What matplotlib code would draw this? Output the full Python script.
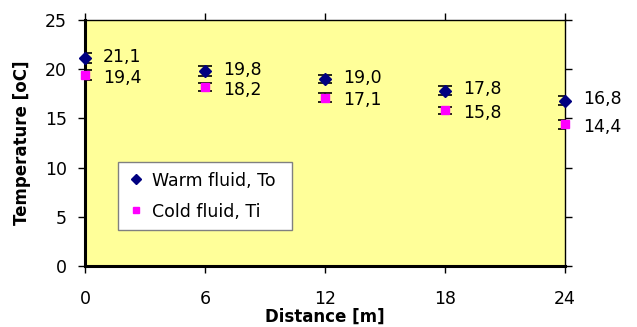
import matplotlib
matplotlib.use("Agg")
import matplotlib.pyplot as plt

# Temperatures along the exchanger
distance = [0, 6, 12, 18, 24]
warm_temp = [21.1, 19.8, 19.0, 17.8, 16.8]
cold_temp = [19.4, 18.2, 17.1, 15.8, 14.4]
warm_err = [0.5, 0.5, 0.4, 0.45, 0.45]
cold_err = [0.5, 0.4, 0.45, 0.4, 0.45]
warm_labels = ["21,1", "19,8", "19,0", "17,8", "16,8"]
cold_labels = ["19,4", "18,2", "17,1", "15,8", "14,4"]

plt.rcParams["font.family"] = ["DejaVu Sans"]

fig = plt.figure(figsize=(6.37, 3.27), dpi=100)
ax = fig.add_axes([0.1334, 0.1865, 0.7536, 0.7525])
ax.set_facecolor("#FFFF99")

ax.errorbar(distance, warm_temp, yerr=warm_err, fmt="none", ecolor="black",
            elinewidth=1.2, capsize=5, capthick=1.2, zorder=3)
ax.errorbar(distance, cold_temp, yerr=cold_err, fmt="none", ecolor="black",
            elinewidth=1.2, capsize=5, capthick=1.2, zorder=3)
ax.plot(distance, warm_temp, linestyle="none", marker="D", markersize=6,
        color="#000080", label="Warm fluid, To", zorder=4, clip_on=False)
ax.plot(distance, cold_temp, linestyle="none", marker="s", markersize=6,
        color="#FF00FF", label="Cold fluid, Ti", zorder=4, clip_on=False)

# value labels sit right of the points; cold ones nudged down a touch
for x, y, s in zip(distance, warm_temp, warm_labels):
    ax.annotate(s, (x, y), xytext=(13, 1), textcoords="offset points",
                va="center", ha="left", fontsize=12.5, annotation_clip=False)
for x, y, s in zip(distance, cold_temp, cold_labels):
    ax.annotate(s, (x, y), xytext=(13, -2), textcoords="offset points",
                va="center", ha="left", fontsize=12.5, annotation_clip=False)

ax.set_xlim(0, 24)
ax.set_ylim(0, 25)
ax.set_xticks(distance)
ax.set_yticks([0, 5, 10, 15, 20, 25])
ax.tick_params(axis="both", labelsize=12.5, length=5, width=1, direction="out")
ax.tick_params(axis="x", top=True, pad=12)
ax.tick_params(axis="y", right=True, pad=8)

for side in ("left", "bottom"):
    ax.spines[side].set_linewidth(2.2)
for side in ("top", "right"):
    ax.spines[side].set_linewidth(1.0)

ax.set_xlabel("Distance [m]", fontsize=12, fontweight="bold", labelpad=0)
ax.set_ylabel("Temperature [oC]", fontsize=12, fontweight="bold", labelpad=10)

leg = ax.legend(loc="lower left", bbox_to_anchor=(0.069, 0.146, 0.3625, 0.281),
                mode="expand", borderaxespad=0, fontsize=12.5, frameon=True,
                fancybox=False, framealpha=1, handlelength=1.0,
                handletextpad=0.4, borderpad=0.55, labelspacing=0.75,
                markerscale=0.8)
leg.get_frame().set_edgecolor("#808080")
leg.get_frame().set_linewidth(1.0)
leg.get_frame().set_facecolor("white")

fig.savefig("out.png", dpi=100)
